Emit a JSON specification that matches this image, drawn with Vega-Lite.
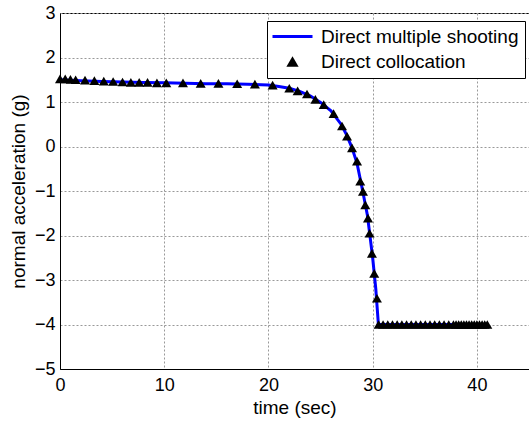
{
  "$schema": "https://vega.github.io/schema/vega-lite/v6.json",
  "width": 469,
  "height": 356,
  "autosize": {"type": "none"},
  "padding": {"left": 60, "top": 13, "right": 0, "bottom": 52},
  "background": "white",
  "datasets": {
    "shooting": [
      {"t": 0, "v": 1.5, "series": "Direct multiple shooting"},
      {"t": 1, "v": 1.49, "series": "Direct multiple shooting"},
      {"t": 2, "v": 1.48, "series": "Direct multiple shooting"},
      {"t": 4, "v": 1.46, "series": "Direct multiple shooting"},
      {"t": 6, "v": 1.45, "series": "Direct multiple shooting"},
      {"t": 8, "v": 1.44, "series": "Direct multiple shooting"},
      {"t": 10, "v": 1.43, "series": "Direct multiple shooting"},
      {"t": 12, "v": 1.42, "series": "Direct multiple shooting"},
      {"t": 14, "v": 1.41, "series": "Direct multiple shooting"},
      {"t": 16, "v": 1.41, "series": "Direct multiple shooting"},
      {"t": 18, "v": 1.4, "series": "Direct multiple shooting"},
      {"t": 20, "v": 1.38, "series": "Direct multiple shooting"},
      {"t": 21, "v": 1.35, "series": "Direct multiple shooting"},
      {"t": 22, "v": 1.31, "series": "Direct multiple shooting"},
      {"t": 23, "v": 1.24, "series": "Direct multiple shooting"},
      {"t": 24, "v": 1.14, "series": "Direct multiple shooting"},
      {"t": 25, "v": 0.99, "series": "Direct multiple shooting"},
      {"t": 26, "v": 0.8, "series": "Direct multiple shooting"},
      {"t": 27, "v": 0.49, "series": "Direct multiple shooting"},
      {"t": 27.5, "v": 0.26, "series": "Direct multiple shooting"},
      {"t": 28, "v": -0.02, "series": "Direct multiple shooting"},
      {"t": 28.5, "v": -0.38, "series": "Direct multiple shooting"},
      {"t": 29, "v": -0.95, "series": "Direct multiple shooting"},
      {"t": 29.5, "v": -1.55, "series": "Direct multiple shooting"},
      {"t": 30, "v": -2.5, "series": "Direct multiple shooting"},
      {"t": 30.3, "v": -3.2, "series": "Direct multiple shooting"},
      {"t": 30.55, "v": -4.0, "series": "Direct multiple shooting"},
      {"t": 35, "v": -4.0, "series": "Direct multiple shooting"},
      {"t": 41, "v": -4.0, "series": "Direct multiple shooting"}
    ],
    "collocation": [
      {"t": 0, "v": 1.52, "series": "Direct collocation"},
      {"t": 0.5, "v": 1.52, "series": "Direct collocation"},
      {"t": 1.0, "v": 1.51, "series": "Direct collocation"},
      {"t": 1.5, "v": 1.5, "series": "Direct collocation"},
      {"t": 2.4, "v": 1.49, "series": "Direct collocation"},
      {"t": 3.3, "v": 1.48, "series": "Direct collocation"},
      {"t": 4.2, "v": 1.47, "series": "Direct collocation"},
      {"t": 5.1, "v": 1.46, "series": "Direct collocation"},
      {"t": 6.0, "v": 1.45, "series": "Direct collocation"},
      {"t": 6.8, "v": 1.44, "series": "Direct collocation"},
      {"t": 7.6, "v": 1.44, "series": "Direct collocation"},
      {"t": 8.4, "v": 1.44, "series": "Direct collocation"},
      {"t": 9.3, "v": 1.43, "series": "Direct collocation"},
      {"t": 10.2, "v": 1.43, "series": "Direct collocation"},
      {"t": 11.8, "v": 1.43, "series": "Direct collocation"},
      {"t": 13.5, "v": 1.42, "series": "Direct collocation"},
      {"t": 15.2, "v": 1.42, "series": "Direct collocation"},
      {"t": 17.0, "v": 1.41, "series": "Direct collocation"},
      {"t": 18.7, "v": 1.4, "series": "Direct collocation"},
      {"t": 20.4, "v": 1.38, "series": "Direct collocation"},
      {"t": 22.0, "v": 1.31, "series": "Direct collocation"},
      {"t": 22.8, "v": 1.25, "series": "Direct collocation"},
      {"t": 23.7, "v": 1.18, "series": "Direct collocation"},
      {"t": 24.5, "v": 1.06, "series": "Direct collocation"},
      {"t": 25.3, "v": 0.94, "series": "Direct collocation"},
      {"t": 26.25, "v": 0.74, "series": "Direct collocation"},
      {"t": 27.06, "v": 0.46, "series": "Direct collocation"},
      {"t": 27.54, "v": 0.23, "series": "Direct collocation"},
      {"t": 28.02, "v": -0.03, "series": "Direct collocation"},
      {"t": 28.5, "v": -0.33, "series": "Direct collocation"},
      {"t": 28.81, "v": -0.78, "series": "Direct collocation"},
      {"t": 29.07, "v": -1.01, "series": "Direct collocation"},
      {"t": 29.29, "v": -1.31, "series": "Direct collocation"},
      {"t": 29.55, "v": -1.61, "series": "Direct collocation"},
      {"t": 29.7, "v": -1.95, "series": "Direct collocation"},
      {"t": 29.93, "v": -2.4, "series": "Direct collocation"},
      {"t": 30.15, "v": -2.85, "series": "Direct collocation"},
      {"t": 30.41, "v": -3.41, "series": "Direct collocation"},
      {"t": 30.57, "v": -4.0, "series": "Direct collocation"},
      {"t": 31.0, "v": -4.0, "series": "Direct collocation"},
      {"t": 31.45, "v": -4.0, "series": "Direct collocation"},
      {"t": 31.9, "v": -4.0, "series": "Direct collocation"},
      {"t": 32.35, "v": -4.0, "series": "Direct collocation"},
      {"t": 32.8, "v": -4.0, "series": "Direct collocation"},
      {"t": 33.25, "v": -4.0, "series": "Direct collocation"},
      {"t": 33.7, "v": -4.0, "series": "Direct collocation"},
      {"t": 34.15, "v": -4.0, "series": "Direct collocation"},
      {"t": 34.6, "v": -4.0, "series": "Direct collocation"},
      {"t": 35.05, "v": -4.0, "series": "Direct collocation"},
      {"t": 35.5, "v": -4.0, "series": "Direct collocation"},
      {"t": 35.95, "v": -4.0, "series": "Direct collocation"},
      {"t": 36.4, "v": -4.0, "series": "Direct collocation"},
      {"t": 36.85, "v": -4.0, "series": "Direct collocation"},
      {"t": 37.3, "v": -4.0, "series": "Direct collocation"},
      {"t": 37.75, "v": -4.0, "series": "Direct collocation"},
      {"t": 38.0, "v": -4.0, "series": "Direct collocation"},
      {"t": 38.25, "v": -4.0, "series": "Direct collocation"},
      {"t": 38.5, "v": -4.0, "series": "Direct collocation"},
      {"t": 38.75, "v": -4.0, "series": "Direct collocation"},
      {"t": 39.0, "v": -4.0, "series": "Direct collocation"},
      {"t": 39.25, "v": -4.0, "series": "Direct collocation"},
      {"t": 39.5, "v": -4.0, "series": "Direct collocation"},
      {"t": 39.75, "v": -4.0, "series": "Direct collocation"},
      {"t": 40.0, "v": -4.0, "series": "Direct collocation"},
      {"t": 40.25, "v": -4.0, "series": "Direct collocation"},
      {"t": 40.5, "v": -4.0, "series": "Direct collocation"},
      {"t": 40.75, "v": -4.0, "series": "Direct collocation"},
      {"t": 41.0, "v": -4.0, "series": "Direct collocation"}
    ]
  },
  "encoding": {
    "x": {
      "field": "t", "type": "quantitative",
      "scale": {"domain": [0, 45], "nice": false, "zero": false},
      "axis": {"values": [0, 10, 20, 30, 40], "title": "time (sec)", "labelPadding": 7, "titlePadding": 4, "grid": true}
    },
    "y": {
      "field": "v", "type": "quantitative",
      "scale": {"domain": [-5, 3], "nice": false, "zero": false},
      "axis": {"values": [-5, -4, -3, -2, -1, 0, 1, 2, 3], "title": "normal acceleration (g)", "labelPadding": 5, "titlePadding": 6, "grid": true}
    },
    "color": {
      "field": "series", "type": "nominal",
      "scale": {"domain": ["Direct multiple shooting", "Direct collocation"], "range": ["#0000ff", "#000000"]},
      "legend": {
        "title": null,
        "orient": "none",
        "legendX": 207,
        "legendY": 8,
        "direction": "vertical",
        "fillColor": "white",
        "strokeColor": "black",
        "padding": 6,
        "rowPadding": 5,
        "symbolSize": 1600,
        "symbolOffset": 10,
        "labelFontSize": 19,
        "labelFont": "Liberation Sans",
        "labelColor": "black",
        "labelOffset": 19,
        "labelLimit": 0,
        "encode": {
          "symbols": {
            "update": {
              "shape": {"signal": "datum.value === 'Direct multiple shooting' ? 'stroke' : 'triangle-up'"},
              "size": {"signal": "datum.value === 'Direct multiple shooting' ? 1600 : 150"},
              "fill": {"signal": "datum.value === 'Direct multiple shooting' ? 'transparent' : 'black'"},
              "stroke": {"signal": "datum.value === 'Direct multiple shooting' ? '#0000ff' : 'black'"},
              "strokeWidth": {"signal": "datum.value === 'Direct multiple shooting' ? 3 : 0"},
              "opacity": {"value": 1}
            }
          }
        }
      }
    }
  },
  "layer": [
    {
      "data": {"name": "shooting"},
      "mark": {"type": "line", "strokeWidth": 3}
    },
    {
      "data": {"name": "collocation"},
      "mark": {"type": "point", "shape": "triangle-up", "filled": true, "size": 100, "opacity": 1}
    }
  ],
  "config": {
    "view": {"stroke": "black", "strokeWidth": 1},
    "axis": {
      "labelFont": "Liberation Sans",
      "labelFontSize": 18,
      "labelColor": "black",
      "titleFont": "Liberation Sans",
      "titleFontSize": 19,
      "titleFontWeight": "normal",
      "titleColor": "black",
      "domainColor": "black",
      "domainWidth": 1,
      "ticks": false,
      "tickSize": 0,
      "gridColor": "#999999",
      "gridDash": [2, 2],
      "gridWidth": 1,
      "gridOpacity": 1,
      "labelFlush": false,
      "labelOverlap": false
    }
  }
}
